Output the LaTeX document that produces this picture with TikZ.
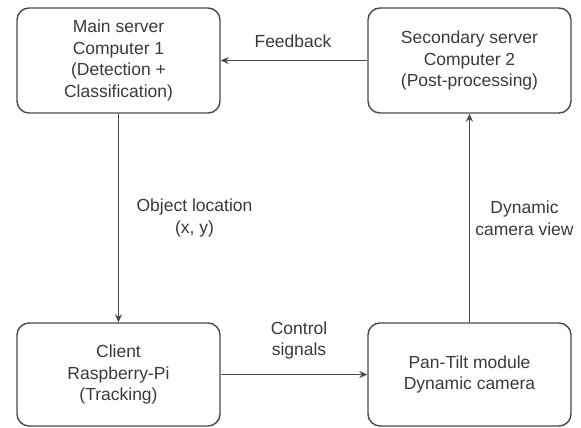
\documentclass[tikz,border=0pt]{standalone}
\usepackage{fontspec}
\setmainfont{Liberation Sans}
\usetikzlibrary{arrows.meta}
\definecolor{linegray}{HTML}{4A4A4A}
\definecolor{textgray}{HTML}{3A3A3A}
\tikzset{
  box/.style={draw=linegray, line width=1.4pt, rounded corners=12pt, minimum width=203pt, minimum height=105pt, align=center, text=textgray, font=\fontsize{17.5}{21.5}\selectfont},
  lbl/.style={align=center, text=textgray, font=\fontsize{17.5}{21.5}\selectfont, inner sep=1pt},
  link/.style={draw=linegray, line width=1.4pt, -{Stealth[length=8pt,width=7pt]}}
}
\begin{document}
\begin{tikzpicture}[x=1pt,y=1pt]
\useasboundingbox (0,0) rectangle (581,428);
\node[box] (main) at (118.5,367.5) {Main server\\Computer 1\\(Detection +\\Classification)};
\node[box] (sec) at (469.5,367.5) {Secondary server\\Computer 2\\(Post-processing)};
\node[box, minimum height=103pt] (client) at (118.5,53.5) {Client\\Raspberry-Pi\\(Tracking)};
\node[box, minimum height=103pt] (pan) at (469.5,53.5) {Pan-Tilt module\\Dynamic camera};
\draw[link] (main) -- node[lbl, midway, xshift=76pt] (objloc) {Object location\\(x, y)} (client);
\draw[link] (client) -- node[lbl, midway, xshift=5pt, yshift=34pt] (ctrl) {Control\\signals} (pan);
\draw[link] (pan) -- node[lbl, midway, xshift=55pt] (camview) {Dynamic\\camera view} (sec);
\draw[link] (sec) -- node[lbl, midway, xshift=-1pt, yshift=19pt] (fb) {Feedback} (main);
\end{tikzpicture}
\end{document}
